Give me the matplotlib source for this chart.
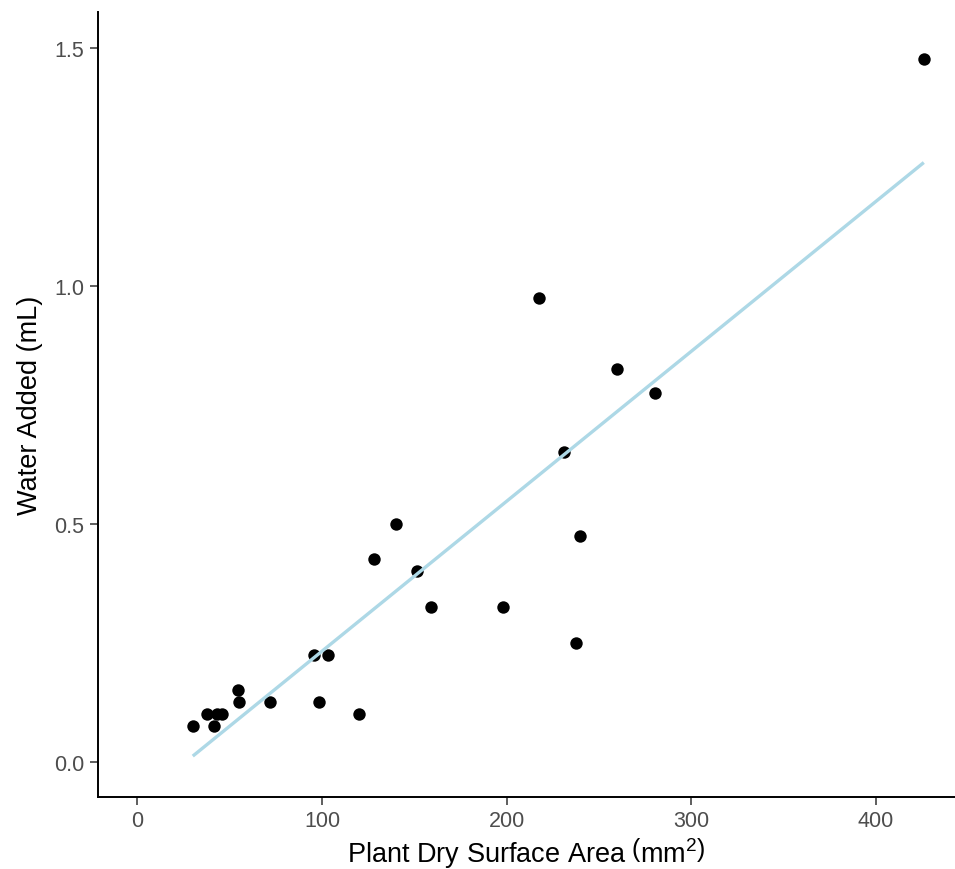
import numpy as np
import matplotlib
matplotlib.use("Agg")
import matplotlib.pyplot as plt

# Data
surface_area = [30.0, 37.6, 41.7, 43.0, 45.7, 54.4, 55.3, 71.9, 95.7, 103.0,
                98.1, 119.8, 140.2, 127.9, 151.4, 158.8, 198.2, 239.7, 237.6,
                217.3, 259.9, 280.5, 230.8, 425.9]
water_added = [0.075, 0.100, 0.075, 0.100, 0.100, 0.150, 0.125, 0.125, 0.225, 0.225,
               0.125, 0.100, 0.500, 0.425, 0.400, 0.325, 0.325, 0.475, 0.250,
               0.975, 0.825, 0.775, 0.650, 1.475]
x_ticks = [0, 100, 200, 300, 400]
y_ticks = [0.0, 0.5, 1.0, 1.5]

plt.rcParams["font.family"] = ["Liberation Sans", "DejaVu Sans"]
plt.rcParams["mathtext.fontset"] = "custom"
plt.rcParams["mathtext.rm"] = "Liberation Sans"
plt.rcParams["mathtext.it"] = "Liberation Sans:italic"

x = np.array(surface_area)
y = np.array(water_added)
slope, intercept = np.polyfit(x, y, 1)
xs = np.array([x.min(), x.max()])

fig = plt.figure(figsize=(9.55, 8.7), dpi=100)
ax = fig.add_axes([0.1021, 0.0831, 0.8979, 0.9016])

ax.scatter(x, y, s=80, color="black", linewidths=0, zorder=2)
ax.plot(xs, slope * xs + intercept, color="#ADD8E6", lw=2.4, zorder=3,
        solid_capstyle="butt")

ax.set_xlim(-21.6, 442.8)
ax.set_ylim(-0.0735, 1.574)
ax.set_xticks(x_ticks)
ax.set_yticks(y_ticks)
ax.set_yticklabels([f"{v:.1f}" for v in y_ticks])

for side in ["top", "right"]:
    ax.spines[side].set_visible(False)
for side in ["left", "bottom"]:
    ax.spines[side].set_linewidth(1.4)
    ax.spines[side].set_color("black")

ax.tick_params(axis="both", direction="out", length=5.5, width=1.1,
               colors="#333333", labelsize=15.5, labelcolor="#4D4D4D", pad=4)

ax.set_xlabel(r"Plant Dry Surface Area $\left(\mathrm{mm}^{2}\right)$",
              fontsize=19.5, labelpad=3)
ax.set_ylabel("Water Added (mL)", fontsize=19.5, labelpad=8)

fig.savefig("out.png", dpi=100)
